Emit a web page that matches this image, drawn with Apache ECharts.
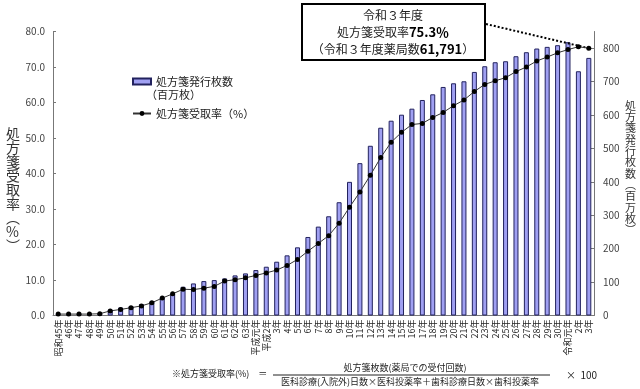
<!DOCTYPE html>
<html style="height: 100%">
<head>
    <meta charset="utf-8">
    <title>処方箋受取率の推移</title>
</head>
<body style="height: 100%; margin: 0">
    <script type="text/javascript" src="https://cdn.jsdelivr.net/npm/echarts@6/dist/echarts.min.js"></script>
    <div id="main" style="width: 640px; height: 389px"></div>
    <script type="text/javascript">
        // 年度（昭和45年〜令和3年）
        var yearList = ['昭和45年','46年','47年','48年','49年','50年','51年','52年','53年','54年',
            '55年','56年','57年','58年','59年','60年','61年','62年','63年',
            '平成元年','平成2年','3年','4年','5年','6年','7年','8年','9年','10年',
            '11年','12年','13年','14年','15年','16年','17年','18年','19年','20年',
            '21年','22年','23年','24年','25年','26年','27年','28年','29年','30年',
            '令和元年','2年','3年'];
        // 処方箋発行枚数（百万枚）
        var countList = [5,5,6,6,7, 18,24,28,34,42,54,66,86,96,103,106,111,120,126,
            136,146,161,180,204,235,266,297,339,400,456,508,562,583,601,619,645,662,684,695,
            701,729,746,758,761,776,788,799,804,809, 818,731,771];
        // 処方箋受取率（%）
        var rateList = [0.4,0.4,0.4,0.4,0.5, 1.3,1.7,2.2,2.7,3.6,4.9,6.1,7.4,7.3,7.7,8.2,9.7,10.1,10.6,
            11.3,12.0,12.8,14.1,15.8,18.1,20.3,22.5,26.0,30.5,34.8,39.5,44.5,48.8,51.6,53.8,54.1,55.8,57.2,59.1,
            60.7,63.1,65.1,66.1,67.0,68.7,70.0,71.7,72.8,74.0, 74.9,75.7,75.3];

        var jp = '"Noto Sans CJK JP", sans-serif';
        var myChart = echarts.init(document.getElementById('main'));

        var option = {
            animation: false,
            textStyle: { fontFamily: jp },
            grid: { left: 53, right: 46, top: 31.5, bottom: 73.5 },
            legend: {
                orient: 'vertical',
                left: 127,
                top: 71,
                itemWidth: 18,
                itemHeight: 6,
                itemGap: 21,
                textStyle: { fontSize: 11, color: '#222', fontFamily: jp },
                data: [
                    { name: '処方箋発行枚数', icon: 'rect' },
                    { name: '処方箋受取率（%）' }
                ]
            },
            xAxis: {
                type: 'category',
                data: yearList,
                axisLine: { lineStyle: { color: '#777' } },
                axisTick: { inside: true, length: 3, lineStyle: { color: '#777' } },
                axisLabel: { interval: 0, rotate: 90, fontSize: 9, color: '#222', margin: 4 }
            },
            yAxis: [
                {
                    type: 'value',
                    min: 0, max: 80, interval: 10,
                    axisLine: { show: true, lineStyle: { color: '#777' } },
                    axisTick: { show: true, inside: true, length: 3, lineStyle: { color: '#777' } },
                    splitLine: { show: false },
                    axisLabel: {
                        fontSize: 10, color: '#444', margin: 8,
                        formatter: function (v) { return v.toFixed(1); }
                    }
                },
                {
                    type: 'value',
                    min: 0, max: 850, interval: 100,
                    axisLine: { show: true, lineStyle: { color: '#777' } },
                    axisTick: { show: true, inside: true, length: 3, lineStyle: { color: '#777' } },
                    splitLine: { show: false },
                    axisLabel: { fontSize: 10, color: '#444', margin: 9, showMaxLabel: false }
                }
            ],
            series: [
                {
                    name: '処方箋発行枚数',
                    type: 'bar',
                    yAxisIndex: 1,
                    barWidth: 5,
                    data: countList,
                    itemStyle: { color: '#a0a0f2', borderColor: '#22225e', borderWidth: 1 }
                },
                {
                    name: '処方箋受取率（%）',
                    type: 'line',
                    yAxisIndex: 0,
                    data: rateList,
                    symbol: 'circle',
                    symbolSize: 5,
                    z: 5,
                    lineStyle: { color: '#333', width: 1 },
                    itemStyle: { color: '#000' },
                    markLine: {
                        silent: true,
                        symbol: ['none', 'none'],
                        label: { show: false },
                        lineStyle: { color: '#000', type: 'dotted', width: 2 },
                        data: [[{ x: 486, y: 24 }, { coord: [51, 75.3] }]]
                    }
                }
            ],
            graphic: [
                // 左軸名
                {
                    type: 'text', left: 6, top: 127,
                    style: { text: '処\n方\n箋\n受\n取\n率\n︵\n%\n︶', font: '14px ' + jp, lineHeight: 14, fill: '#333' }
                },
                // 右軸名
                {
                    type: 'text', left: 625, top: 100,
                    style: { text: '処\n方\n箋\n発\n行\n枚\n数\n︵\n百\n万\n枚\n︶', font: '11px ' + jp, lineHeight: 11.3, fill: '#333' }
                },
                // 凡例の補足
                {
                    type: 'text', left: 146, top: 89,
                    style: { text: '（百万枚）', font: '11px ' + jp, fill: '#222' }
                },
                // 注記ボックス
                {
                    type: 'rect', shape: { x: 302, y: 4, width: 183, height: 56 },
                    style: { fill: '#fff', stroke: '#000', lineWidth: 2 }, z: 10
                },
                {
                    type: 'text', z: 11, x: 393, y: 32,
                    style: {
                        text: '{n|令和３年度}\n{n|処方箋受取率}{b|75.3％}\n{n|（令和３年度薬局数}{b|61,791}{n|）}',
                        align: 'center', verticalAlign: 'middle', lineHeight: 17,
                        rich: {
                            n: { fontSize: 12, fontFamily: jp, fill: '#222', lineHeight: 17 },
                            b: { fontSize: 13, fontWeight: 'bold', fontFamily: jp, fill: '#000', lineHeight: 17 }
                        }
                    }
                },
                // 脚注（受取率の算式）
                {
                    type: 'text', left: 172, top: 369,
                    style: { text: '※処方箋受取率(%)　＝', font: '9px ' + jp, fill: '#222' }
                },
                {
                    type: 'text', x: 405, y: 368,
                    style: { text: '処方箋枚数(薬局での受付回数)', font: '9px ' + jp, fill: '#222', align: 'center', verticalAlign: 'middle' }
                },
                {
                    type: 'line', shape: { x1: 273, y1: 375, x2: 550, y2: 375 },
                    style: { stroke: '#222', lineWidth: 1 }
                },
                {
                    type: 'text', x: 410, y: 382,
                    style: { text: '医科診療(入院外)日数×医科投薬率＋歯科診療日数×歯科投薬率', font: '9px ' + jp, fill: '#222', align: 'center', verticalAlign: 'middle' }
                },
                {
                    type: 'text', left: 566, top: 370,
                    style: { text: '×  100', font: '10px ' + jp, fill: '#222' }
                }
            ]
        };

        myChart.setOption(option);
    </script>
</body>
</html>
